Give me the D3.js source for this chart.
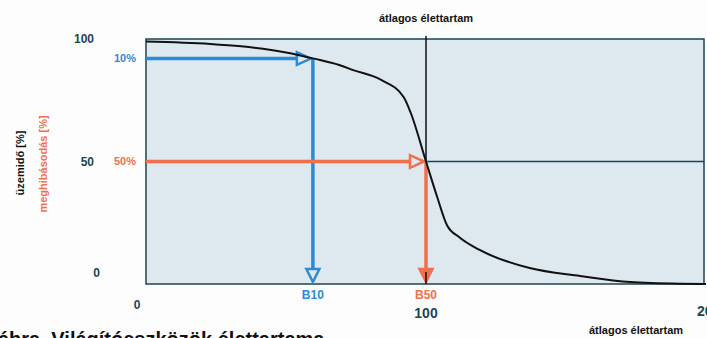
<!DOCTYPE html>
<html>
<head>
<meta charset="utf-8">
<script src="https://cdn.jsdelivr.net/npm/d3@7"></script>
<style>
  body { margin:0; background:#fdfdfd; }
  svg { display:block; font-family:"Liberation Sans", Arial, sans-serif; font-weight:bold; }
</style>
</head>
<body>
<div id="chart"></div>
<script>
// survival curve (hours % of average life, operating %)
const lifeX = [0, 23, 34, 50, 60, 69, 74, 84, 92, 94.5, 100, 104, 107.5, 112, 119, 137, 155, 173, 191, 200];
const surviveY = [99, 98, 97, 94.5, 92, 89.4, 87.3, 83.3, 76.3, 70, 50, 35.5, 24, 19, 14, 6.5, 3.3, 0.8, 0.1, 0];

const yTicks = [100, 50, 0];
const markerLevels = [
  { label:"10%", code:"B10", y:92, x:59.6, color:"#2b8bd6" },
  { label:"50%", code:"B50", y:50, x:100, color:"#f0704e" }
];
const meanLife = 100;

const W = 707, H = 338;
const m = { left:146, right:706, top:39, bottom:284 };

const svg = d3.select("#chart").append("svg").attr("width", W).attr("height", H);

const x = d3.scaleLinear().domain([0, 200]).range([m.left, m.right]);
const y = d3.scaleLinear().domain([0, 100]).range([m.bottom, m.top]);

const dark = "#1d4452";

// plot background
svg.append("rect")
  .attr("x", x(0)).attr("y", y(100))
  .attr("width", x(200) - x(0) - 2).attr("height", y(0) - y(100))
  .attr("fill", "#dde9ef")
  .attr("stroke", dark).attr("stroke-width", 1.5);

// mean life lines
svg.append("line")
  .attr("x1", x(meanLife)).attr("x2", x(meanLife))
  .attr("y1", y(100) - 3).attr("y2", y(0))
  .attr("stroke", "#111").attr("stroke-width", 1.5);
svg.append("line")
  .attr("x1", x(meanLife)).attr("x2", x(200) - 2)
  .attr("y1", y(50)).attr("y2", y(50))
  .attr("stroke", dark).attr("stroke-width", 1.5);

// arrows
function tri(cx, cy, dir, s) {
  // tip at (cx, cy)
  if (dir === "right") return `M${cx},${cy}L${cx - s},${cy - s * 0.45}L${cx - s},${cy + s * 0.45}Z`;
  return `M${cx},${cy}L${cx - s * 0.5},${cy - s}L${cx + s * 0.5},${cy - s}Z`;
}
markerLevels.forEach((d, i) => {
  const g = svg.append("g");
  const xp = x(d.x), yp = y(d.y);
  g.append("line").attr("x1", x(0)).attr("x2", xp - 14).attr("y1", yp).attr("y2", yp)
    .attr("stroke", d.color).attr("stroke-width", 3.5);
  g.append("path").attr("d", tri(xp - 2, yp, "right", 14))
    .attr("fill", "#dde9ef").attr("stroke", d.color).attr("stroke-width", 2.5).attr("stroke-linejoin", "miter");
  g.append("line").attr("x1", xp).attr("x2", xp).attr("y1", yp).attr("y2", y(0) - 14)
    .attr("stroke", d.color).attr("stroke-width", 3.5);
  g.append("path").attr("d", tri(xp, y(0) - 2, "down", 13))
    .attr("fill", i === 1 ? d.color : "#dde9ef").attr("stroke", d.color).attr("stroke-width", 2.5);
  if (i === 1) {
    g.append("line").attr("x1", xp).attr("x2", xp).attr("y1", y(0) - 12).attr("y2", y(0))
      .attr("stroke", "#111").attr("stroke-width", 1.5);
  }
  svg.append("text").attr("x", x(0) - 10).attr("y", yp).attr("dy", "0.35em")
    .attr("text-anchor", "end").attr("font-size", 11).attr("fill", d.color).text(d.label);
  svg.append("text").attr("x", xp).attr("y", 299).attr("text-anchor", "middle")
    .attr("font-size", 12).attr("fill", d.color).text(d.code);
});

// curve
const line = d3.line().x(d => x(d[0])).y(d => y(d[1])).curve(d3.curveMonotoneX);
svg.append("path")
  .datum(lifeX.map((v, i) => [v, surviveY[i]]))
  .attr("d", line)
  .attr("fill", "none").attr("stroke", "#111").attr("stroke-width", 2);

// y tick labels
const yLabelPos = { 100: [94, y(100)], 50: [94, y(50)], 0: [100, 273] };
yTicks.forEach(t => {
  svg.append("text").attr("x", yLabelPos[t][0]).attr("y", yLabelPos[t][1]).attr("dy", "0.35em")
    .attr("text-anchor", "end").attr("font-size", 12).attr("fill", dark).text(t);
});

// x tick labels
svg.append("text").attr("x", 137).attr("y", 309).attr("text-anchor", "middle")
  .attr("font-size", 12).attr("fill", dark).text("0");
svg.append("text").attr("x", x(100)).attr("y", 318).attr("text-anchor", "middle")
  .attr("font-size", 14).attr("fill", dark).text("100");
svg.append("text").attr("x", 697).attr("y", 316).attr("text-anchor", "start")
  .attr("font-size", 14).attr("fill", dark).text("200");

// axis titles
svg.append("text").attr("transform", "translate(24,163) rotate(-90)").attr("text-anchor", "middle")
  .attr("font-size", 11).attr("fill", "#111").text("üzemidő [%]");
svg.append("text").attr("transform", "translate(47,164) rotate(-90)").attr("text-anchor", "middle")
  .attr("font-size", 11).attr("fill", "#f0704e").text("meghibásodás [%]");
svg.append("text").attr("x", x(100)).attr("y", 22).attr("text-anchor", "middle")
  .attr("font-size", 11).attr("fill", "#111").text("átlagos élettartam");
svg.append("text").attr("x", 589).attr("y", 334).attr("text-anchor", "start")
  .attr("font-size", 11).attr("fill", "#111").text("átlagos élettartam");

// caption
svg.append("text").attr("x", -2).attr("y", 346).attr("text-anchor", "start")
  .attr("font-size", 20).attr("fill", "#111").text("ábra. Világítóeszközök élettartama");
</script>
</body>
</html>
